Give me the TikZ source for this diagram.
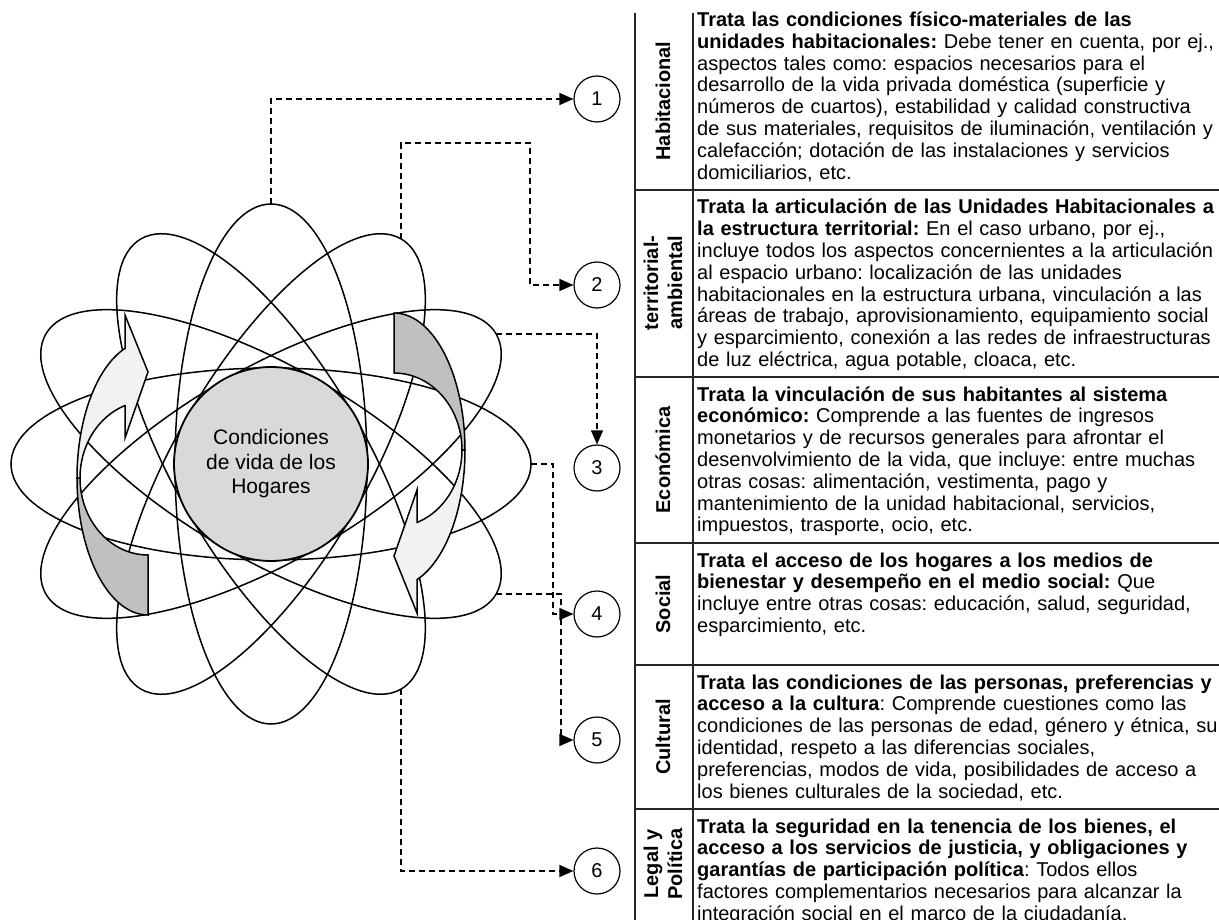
\documentclass[tikz,border=0pt]{standalone}
\usepackage{fontspec}
\setmainfont{Liberation Sans}
\usetikzlibrary{arrows.meta}
\definecolor{circfill}{RGB}{217,217,217}
\definecolor{darkband}{RGB}{192,192,192}
\definecolor{lightband}{RGB}{242,242,242}
\frenchspacing
\begin{document}
\begin{tikzpicture}[x=1pt,y=-1pt,
  ell/.style={line width=1.5pt},
  conn/.style={line width=1.3pt, dash pattern=on 6pt off 4pt, -{Triangle[length=14pt,width=12pt]}},
  numc/.style={circle, draw, line width=1.2pt, minimum size=46pt, inner sep=0pt, font=\fontsize{20}{24}\selectfont},
  band/.style={draw, line width=1.5pt, line join=miter},
  body/.style={anchor=base west, inner sep=0pt, text width=540pt, align=left, font=\frenchspacing\fontsize{20}{21.8}\selectfont},
  lab/.style={rotate=90, font=\bfseries\fontsize{20}{24}\selectfont, align=center, inner sep=0pt},
  rulex/.style={line width=1.3pt, black!85}
]
\useasboundingbox (0,0) rectangle (1219,920);
\coordinate (C) at (271,464);
% ellipses
\foreach \a in {0,30,...,150}
  \draw[ell, rotate around={\a:(C)}] (C) ellipse [x radius=260, y radius=96];
% centre circle
\node[circle, draw, fill=circfill, line width=1.8pt, minimum size=194pt, inner sep=0pt, align=center,
      font=\fontsize{21}{24.5}\selectfont] (ctr) at (C) {Condiciones\\de vida de los\\Hogares};
% curved arrows, left
\begin{scope}
  \draw[band, fill=darkband] plot[domain=180:270, samples=30] ({148+71*cos(\x)},{478-137*sin(\x)})
     -- plot[domain=270:180, samples=30] ({148+68*cos(\x)},{478-77*sin(\x)}) -- cycle;
  \draw[band, fill=lightband] (125,315) -- (148,372) -- (125,438) -- (125,405.6)
     -- plot[domain=109.8:180, samples=30] ({148+68*cos(\x)},{478-77*sin(\x)})
     -- plot[domain=180:108.9, samples=30] ({148+71*cos(\x)},{478-137*sin(\x)}) -- cycle;
\end{scope}
% curved arrows, right
\begin{scope}[rotate around={180:(C)}]
  \draw[band, fill=darkband] plot[domain=180:270, samples=30] ({148+71*cos(\x)},{478-137*sin(\x)})
     -- plot[domain=270:180, samples=30] ({148+68*cos(\x)},{478-77*sin(\x)}) -- cycle;
  \draw[band, fill=lightband] (125,315) -- (148,372) -- (125,438) -- (125,405.6)
     -- plot[domain=109.8:180, samples=30] ({148+68*cos(\x)},{478-77*sin(\x)})
     -- plot[domain=180:108.9, samples=30] ({148+71*cos(\x)},{478-137*sin(\x)}) -- cycle;
\end{scope}
% ellipse tips
\coordinate (t90) at (271,204);
\coordinate (t60) at (401,238.8);
\coordinate (t30) at (496.2,334);
\coordinate (t0) at (531,464);
\coordinate (tm30) at (496.2,594);
\coordinate (tm60) at (401,689.2);
% number circles
\node[numc] (n1) at (597,99) {1};
\node[numc] (n2) at (597,285) {2};
\node[numc] (n3) at (597,468) {3};
\node[numc] (n4) at (597,614) {4};
\node[numc] (n5) at (597,740) {5};
\node[numc] (n6) at (597,871) {6};
% connectors
\draw[conn] (t90) |- (n1);
\draw[conn] (t60) |- (530,143) |- (n2);
\draw[conn] (t30) -| (n3);
\draw[conn] (t0) -- (553,464) |- (n4);
\draw[conn] (tm30) -- (561,594) |- (n5);
\draw[conn] (tm60) |- (n6);
% table rules
\draw[rulex, line width=2pt] (635,13) -- (635,920);
\draw[rulex] (693,13) -- (693,920);
\foreach \y in {190,377,543,665,809} \draw[rulex] (635,\y) -- (1219,\y);
% labels
\node[lab] (l1) at (663,101) {Habitacional};
\node[lab] (l2) at (663,283) {territorial-\\ambiental};
\node[lab] (l3) at (663,460) {Económica};
\node[lab] (l4) at (663,604) {Social};
\node[lab] (l5) at (663,737) {Cultural};
\node[lab] (l6) at (663,864) {Legal y\\Política};
% body texts
\node[body] (b1) at (697,26.5) {\textbf{Trata las condiciones físico-materiales de las}\\
\textbf{unidades habitacionales:} Debe tener en cuenta, por ej.,\\
aspectos tales como: espacios necesarios para el\\
desarrollo de la vida privada doméstica (superficie y\\
números de cuartos), estabilidad y calidad constructiva\\
de sus materiales, requisitos de iluminación, ventilación y\\
calefacción; dotación de las instalaciones y servicios\\
domiciliarios, etc.};
\node[body] (b2) at (697,214) {\textbf{Trata la articulación de las Unidades Habitacionales a}\\
\textbf{la estructura territorial:} En el caso urbano, por ej.,\\
incluye todos los aspectos concernientes a la articulación\\
al espacio urbano: localización de las unidades\\
habitacionales en la estructura urbana, vinculación a las\\
áreas de trabajo, aprovisionamiento, equipamiento social\\
y esparcimiento, conexión a las redes de infraestructuras\\
de luz eléctrica, agua potable, cloaca, etc.};
\node[body] (b3) at (697,401) {\textbf{Trata la vinculación de sus habitantes al sistema}\\
\textbf{económico:} Comprende a las fuentes de ingresos\\
monetarios y de recursos generales para afrontar el\\
desenvolvimiento de la vida, que incluye: entre muchas\\
otras cosas: alimentación, vestimenta, pago y\\
mantenimiento de la unidad habitacional, servicios,\\
impuestos, trasporte, ocio, etc.};
\node[body] (b4) at (697,567) {\textbf{Trata el acceso de los hogares a los medios de}\\
\textbf{bienestar y desempeño en el medio social:} Que\\
incluye entre otras cosas: educación, salud, seguridad,\\
esparcimiento, etc.};
\node[body] (b5) at (697,689) {\textbf{Trata las condiciones de las personas, preferencias y}\\
\textbf{acceso a la cultura}: Comprende cuestiones como las\\
condiciones de las personas de edad, género y étnica, su\\
identidad, respeto a las diferencias sociales,\\
preferencias, modos de vida, posibilidades de acceso a\\
los bienes culturales de la sociedad, etc.};
\node[body] (b6) at (697,833) {\textbf{Trata la seguridad en la tenencia de los bienes, el}\\
\textbf{acceso a los servicios de justicia, y obligaciones y}\\
\textbf{garantías de participación política}: Todos ellos\\
factores complementarios necesarios para alcanzar la\\
integración social en el marco de la ciudadanía.};
\end{tikzpicture}
\end{document}
